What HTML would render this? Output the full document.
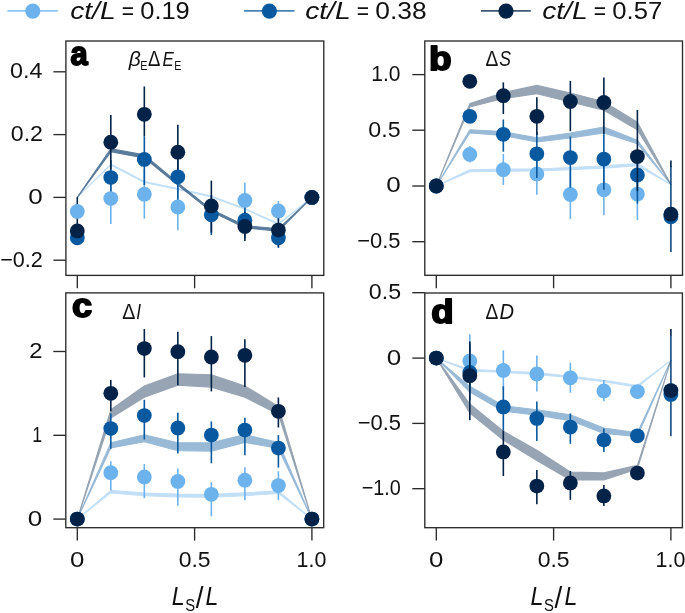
<!DOCTYPE html><html><head><meta charset="utf-8"><style>html,body{margin:0;padding:0;background:#fff;}svg{display:block;will-change:transform;}text{font-family:"Liberation Sans", sans-serif;}</style></head><body>
<svg width="685" height="613" viewBox="0 0 685 613">
<line x1="7.4" y1="10.9" x2="57.8" y2="10.9" stroke="#6cb2ec" stroke-opacity="0.75" stroke-width="1.9"/>
<circle cx="32.8" cy="11.1" r="7.6" fill="#6cb2ec"/>
<text transform="translate(70.15,19) scale(1.1755,1)" font-size="24" font-style="italic" fill="#111">ct/L</text>
<text transform="translate(121.85,19) scale(0.8763,1)" font-size="24" fill="#111">=</text>
<text transform="translate(140.28,19) scale(1.0596,1)" font-size="24" fill="#111">0.19</text>
<line x1="244.1" y1="10.9" x2="294.5" y2="10.9" stroke="#08599f" stroke-opacity="0.75" stroke-width="1.9"/>
<circle cx="269.4" cy="11.1" r="7.6" fill="#08599f"/>
<text transform="translate(305.15,19) scale(1.1755,1)" font-size="24" font-style="italic" fill="#111">ct/L</text>
<text transform="translate(356.85,19) scale(0.8763,1)" font-size="24" fill="#111">=</text>
<text transform="translate(375.24,19) scale(1.0992,1)" font-size="24" fill="#111">0.38</text>
<line x1="481" y1="10.9" x2="530.8" y2="10.9" stroke="#022247" stroke-opacity="0.75" stroke-width="1.9"/>
<circle cx="506.0" cy="11.1" r="7.6" fill="#022247"/>
<text transform="translate(542.15,19) scale(1.1755,1)" font-size="24" font-style="italic" fill="#111">ct/L</text>
<text transform="translate(593.85,19) scale(0.8763,1)" font-size="24" fill="#111">=</text>
<text transform="translate(612.27,19) scale(1.0692,1)" font-size="24" fill="#111">0.57</text>
<g opacity="0.41"><path d="M77.3,197.4 L110.81,164.1 L144.33,181.6 L177.84,188.6 L211.36,196.1 L244.87,208.4 L278.39,223.6 L311.9,197.4 L311.9,197.4 L278.39,224.4 L244.87,209.2 L211.36,196.9 L177.84,189.4 L144.33,182.4 L110.81,164.9 L77.3,197.4 Z" fill="#6cb2ec" stroke="#6cb2ec" stroke-width="1.1" stroke-linejoin="round"/></g>
<g opacity="0.41"><path d="M77.3,197.4 L110.81,148.8 L144.33,154.9 L177.84,183 L211.36,209.6 L244.87,225.6 L278.39,228.9 L311.9,197.4 L311.9,197.4 L278.39,231.1 L244.87,227.8 L211.36,211.6 L177.84,185 L144.33,157.9 L110.81,151.8 L77.3,197.4 Z" fill="#08599f" stroke="#08599f" stroke-width="1.1" stroke-linejoin="round"/></g>
<g opacity="0.41"><path d="M77.3,197.4 L110.81,148.8 L144.33,154.9 L177.84,183 L211.36,209.6 L244.87,225.6 L278.39,228.9 L311.9,197.4 L311.9,197.4 L278.39,231.1 L244.87,227.8 L211.36,211.6 L177.84,185 L144.33,157.9 L110.81,151.8 L77.3,197.4 Z" fill="#022247" stroke="#022247" stroke-width="1.1" stroke-linejoin="round"/></g>
<line x1="110.81" y1="174" x2="110.81" y2="224" stroke="#6cb2ec" stroke-width="1.6"/>
<line x1="144.33" y1="170" x2="144.33" y2="218.6" stroke="#6cb2ec" stroke-width="1.6"/>
<line x1="177.84" y1="184" x2="177.84" y2="230.3" stroke="#6cb2ec" stroke-width="1.6"/>
<line x1="244.87" y1="182.8" x2="244.87" y2="218" stroke="#6cb2ec" stroke-width="1.6"/>
<line x1="278.39" y1="201" x2="278.39" y2="221" stroke="#6cb2ec" stroke-width="1.6"/>
<line x1="110.81" y1="160" x2="110.81" y2="198" stroke="#08599f" stroke-width="1.6"/>
<line x1="144.33" y1="136.3" x2="144.33" y2="185" stroke="#08599f" stroke-width="1.6"/>
<line x1="177.84" y1="150" x2="177.84" y2="203" stroke="#08599f" stroke-width="1.6"/>
<line x1="211.36" y1="195" x2="211.36" y2="235" stroke="#08599f" stroke-width="1.6"/>
<line x1="244.87" y1="205" x2="244.87" y2="238" stroke="#08599f" stroke-width="1.6"/>
<line x1="278.39" y1="225" x2="278.39" y2="248" stroke="#08599f" stroke-width="1.6"/>
<line x1="77.3" y1="197.2" x2="77.3" y2="240" stroke="#022247" stroke-width="1.6"/>
<line x1="110.81" y1="115.1" x2="110.81" y2="169.5" stroke="#022247" stroke-width="1.6"/>
<line x1="144.33" y1="86.5" x2="144.33" y2="136.3" stroke="#022247" stroke-width="1.6"/>
<line x1="177.84" y1="124.7" x2="177.84" y2="180" stroke="#022247" stroke-width="1.6"/>
<line x1="211.36" y1="180.6" x2="211.36" y2="232.7" stroke="#022247" stroke-width="1.6"/>
<line x1="244.87" y1="212" x2="244.87" y2="241.1" stroke="#022247" stroke-width="1.6"/>
<line x1="278.39" y1="215" x2="278.39" y2="246.6" stroke="#022247" stroke-width="1.6"/>
<circle cx="77.3" cy="211.4" r="7.4" fill="#6cb2ec"/>
<circle cx="110.81" cy="198.6" r="7.4" fill="#6cb2ec"/>
<circle cx="144.33" cy="194.2" r="7.4" fill="#6cb2ec"/>
<circle cx="177.84" cy="207" r="7.4" fill="#6cb2ec"/>
<circle cx="244.87" cy="200.4" r="7.4" fill="#6cb2ec"/>
<circle cx="278.39" cy="210.9" r="7.4" fill="#6cb2ec"/>
<circle cx="311.9" cy="197.4" r="7.4" fill="#6cb2ec"/>
<circle cx="77.3" cy="237.8" r="7.4" fill="#08599f"/>
<circle cx="110.81" cy="177.6" r="7.4" fill="#08599f"/>
<circle cx="144.33" cy="159.4" r="7.4" fill="#08599f"/>
<circle cx="177.84" cy="176.8" r="7.4" fill="#08599f"/>
<circle cx="211.36" cy="214.7" r="7.4" fill="#08599f"/>
<circle cx="244.87" cy="220.2" r="7.4" fill="#08599f"/>
<circle cx="278.39" cy="237.8" r="7.4" fill="#08599f"/>
<circle cx="311.9" cy="197.4" r="7.4" fill="#08599f"/>
<circle cx="77.3" cy="230.9" r="7.4" fill="#022247"/>
<circle cx="110.81" cy="142.2" r="7.4" fill="#022247"/>
<circle cx="144.33" cy="114.3" r="7.4" fill="#022247"/>
<circle cx="177.84" cy="152.2" r="7.4" fill="#022247"/>
<circle cx="211.36" cy="205.9" r="7.4" fill="#022247"/>
<circle cx="244.87" cy="226.4" r="7.4" fill="#022247"/>
<circle cx="278.39" cy="230.1" r="7.4" fill="#022247"/>
<circle cx="311.9" cy="197.4" r="7.4" fill="#022247"/>
<rect x="65.9" y="41" width="257.9" height="234.4" fill="none" stroke="#2b2b2b" stroke-width="1.35"/>
<line x1="53.4" y1="71.8" x2="65.9" y2="71.8" stroke="#2b2b2b" stroke-width="1.35"/>
<text transform="translate(10.02,78.2) scale(1.0721,1)" font-size="21.8" fill="#111">0.4</text>
<line x1="53.4" y1="134.6" x2="65.9" y2="134.6" stroke="#2b2b2b" stroke-width="1.35"/>
<text transform="translate(10.77,141) scale(1.0621,1)" font-size="21.8" fill="#111">0.2</text>
<line x1="53.4" y1="197.4" x2="65.9" y2="197.4" stroke="#2b2b2b" stroke-width="1.35"/>
<text transform="translate(28.26,203.8) scale(1.1946,1)" font-size="21.8" fill="#111">0</text>
<line x1="53.4" y1="260.2" x2="65.9" y2="260.2" stroke="#2b2b2b" stroke-width="1.35"/>
<text transform="translate(0.22,266.6) scale(0.9908,1)" font-size="21.8" fill="#111">−0.2</text>
<line x1="77.3" y1="275.4" x2="77.3" y2="288.3" stroke="#2b2b2b" stroke-width="1.35"/>
<line x1="194.6" y1="275.4" x2="194.6" y2="288.3" stroke="#2b2b2b" stroke-width="1.35"/>
<line x1="311.9" y1="275.4" x2="311.9" y2="288.3" stroke="#2b2b2b" stroke-width="1.35"/>
<text transform="translate(70.62,64.96) scale(0.9197,1)" font-size="33.64" font-weight="bold" fill="#000" stroke="#000" stroke-width="1.8" stroke-linejoin="round">a</text>
<text transform="translate(128.63,66.2) scale(1.0025,1)" font-size="21" font-style="italic" fill="#111">β</text>
<text transform="translate(140.13,69.5) scale(0.8079,1)" font-size="13.4" fill="#111">E</text>
<text transform="translate(148.04,66.2) scale(0.8697,1)" font-size="21.3" fill="#111">Δ</text>
<text transform="translate(162.59,66.2) scale(0.8204,1)" font-size="20.6" font-style="italic" fill="#111">E</text>
<text transform="translate(174.25,69.5) scale(0.7942,1)" font-size="13.4" fill="#111">E</text>
<g opacity="0.41"><path d="M436.3,186 L469.81,169.8 L503.33,169.1 L536.84,169 L570.36,167.5 L603.87,165.9 L637.39,163.5 L670.9,184.5 L670.9,184.5 L637.39,165.7 L603.87,168.1 L570.36,169.7 L536.84,171 L503.33,171.1 L469.81,171.8 L436.3,186 Z" fill="#6cb2ec" stroke="#6cb2ec" stroke-width="1.1" stroke-linejoin="round"/></g>
<g opacity="0.41"><path d="M436.3,186 L469.81,129.8 L503.33,131.6 L536.84,137.75 L570.36,133 L603.87,127.1 L637.39,140.3 L670.9,184.5 L670.9,184.5 L637.39,143.7 L603.87,132.9 L570.36,138 L536.84,142.05 L503.33,135.4 L469.81,133 L436.3,186 Z" fill="#08599f" stroke="#08599f" stroke-width="1.1" stroke-linejoin="round"/></g>
<g opacity="0.41"><path d="M436.3,186 L469.81,103.6 L503.33,92.65 L536.84,85.4 L570.36,93 L603.87,101.8 L637.39,122.2 L670.9,184.5 L670.9,184.5 L637.39,129.8 L603.87,110.2 L570.36,102 L536.84,93.8 L503.33,98.55 L469.81,107 L436.3,186 Z" fill="#022247" stroke="#022247" stroke-width="1.1" stroke-linejoin="round"/></g>
<line x1="469.81" y1="146.2" x2="469.81" y2="162.6" stroke="#6cb2ec" stroke-width="1.6"/>
<line x1="503.33" y1="154" x2="503.33" y2="185" stroke="#6cb2ec" stroke-width="1.6"/>
<line x1="536.84" y1="153" x2="536.84" y2="194.7" stroke="#6cb2ec" stroke-width="1.6"/>
<line x1="570.36" y1="170" x2="570.36" y2="218.9" stroke="#6cb2ec" stroke-width="1.6"/>
<line x1="603.87" y1="164" x2="603.87" y2="215.3" stroke="#6cb2ec" stroke-width="1.6"/>
<line x1="637.39" y1="168" x2="637.39" y2="220.2" stroke="#6cb2ec" stroke-width="1.6"/>
<circle cx="436.3" cy="186" r="7.4" fill="#6cb2ec"/>
<circle cx="469.81" cy="154.4" r="7.4" fill="#6cb2ec"/>
<circle cx="503.33" cy="169.7" r="7.4" fill="#6cb2ec"/>
<circle cx="536.84" cy="173.9" r="7.4" fill="#6cb2ec"/>
<circle cx="570.36" cy="194.5" r="7.4" fill="#6cb2ec"/>
<circle cx="603.87" cy="189.8" r="7.4" fill="#6cb2ec"/>
<circle cx="637.39" cy="194.1" r="7.4" fill="#6cb2ec"/>
<circle cx="670.9" cy="214.2" r="7.4" fill="#6cb2ec"/>
<line x1="503.33" y1="119.5" x2="503.33" y2="151.7" stroke="#08599f" stroke-width="1.6"/>
<line x1="536.84" y1="132" x2="536.84" y2="178" stroke="#08599f" stroke-width="1.6"/>
<line x1="570.36" y1="136.5" x2="570.36" y2="187.7" stroke="#08599f" stroke-width="1.6"/>
<line x1="603.87" y1="134.3" x2="603.87" y2="189.8" stroke="#08599f" stroke-width="1.6"/>
<line x1="637.39" y1="150" x2="637.39" y2="203.6" stroke="#08599f" stroke-width="1.6"/>
<line x1="670.9" y1="166" x2="670.9" y2="252" stroke="#17497c" stroke-width="1.6"/>
<circle cx="436.3" cy="186" r="7.4" fill="#08599f"/>
<circle cx="469.81" cy="116.3" r="7.4" fill="#08599f"/>
<circle cx="503.33" cy="134.3" r="7.4" fill="#08599f"/>
<circle cx="536.84" cy="153.8" r="7.4" fill="#08599f"/>
<circle cx="570.36" cy="157.6" r="7.4" fill="#08599f"/>
<circle cx="603.87" cy="159.1" r="7.4" fill="#08599f"/>
<circle cx="637.39" cy="175" r="7.4" fill="#08599f"/>
<circle cx="670.9" cy="216.8" r="7.4" fill="#08599f"/>
<line x1="503.33" y1="82.4" x2="503.33" y2="114" stroke="#022247" stroke-width="1.6"/>
<line x1="536.84" y1="97.2" x2="536.84" y2="135" stroke="#022247" stroke-width="1.6"/>
<line x1="570.36" y1="80.9" x2="570.36" y2="131.2" stroke="#022247" stroke-width="1.6"/>
<line x1="603.87" y1="77.5" x2="603.87" y2="134.3" stroke="#022247" stroke-width="1.6"/>
<line x1="637.39" y1="110" x2="637.39" y2="190.9" stroke="#022247" stroke-width="1.6"/>
<line x1="670.9" y1="160.4" x2="670.9" y2="167" stroke="#022247" stroke-width="1.6"/>
<circle cx="436.3" cy="186" r="7.4" fill="#022247"/>
<circle cx="469.81" cy="81.3" r="7.4" fill="#022247"/>
<circle cx="503.33" cy="95.7" r="7.4" fill="#022247"/>
<circle cx="536.84" cy="116.3" r="7.4" fill="#022247"/>
<circle cx="570.36" cy="101.5" r="7.4" fill="#022247"/>
<circle cx="603.87" cy="102.5" r="7.4" fill="#022247"/>
<circle cx="637.39" cy="156.6" r="7.4" fill="#022247"/>
<circle cx="670.9" cy="214.2" r="7.4" fill="#022247"/>
<rect x="424.8" y="41" width="257.7" height="234.3" fill="none" stroke="#2b2b2b" stroke-width="1.35"/>
<line x1="412.3" y1="74.6" x2="424.8" y2="74.6" stroke="#2b2b2b" stroke-width="1.35"/>
<text transform="translate(371.22,81) scale(0.9640,1)" font-size="21.8" fill="#111">1.0</text>
<line x1="412.3" y1="130.2" x2="424.8" y2="130.2" stroke="#2b2b2b" stroke-width="1.35"/>
<text transform="translate(368.37,136.6) scale(1.0645,1)" font-size="21.8" fill="#111">0.5</text>
<line x1="412.3" y1="186" x2="424.8" y2="186" stroke="#2b2b2b" stroke-width="1.35"/>
<text transform="translate(386.16,192.4) scale(1.1946,1)" font-size="21.8" fill="#111">0</text>
<line x1="412.3" y1="241.7" x2="424.8" y2="241.7" stroke="#2b2b2b" stroke-width="1.35"/>
<text transform="translate(357.2,248.1) scale(1.0075,1)" font-size="21.8" fill="#111">−0.5</text>
<line x1="436.3" y1="275.3" x2="436.3" y2="288.2" stroke="#2b2b2b" stroke-width="1.35"/>
<line x1="553.6" y1="275.3" x2="553.6" y2="288.2" stroke="#2b2b2b" stroke-width="1.35"/>
<line x1="670.9" y1="275.3" x2="670.9" y2="288.2" stroke="#2b2b2b" stroke-width="1.35"/>
<text transform="translate(428.99,70.16) scale(1.0975,1)" font-size="33.74" font-weight="bold" fill="#000" stroke="#000" stroke-width="1.8" stroke-linejoin="round">b</text>
<text transform="translate(485.52,66.1) scale(0.8921,1)" font-size="21.5" fill="#111">Δ</text>
<text transform="translate(499.37,66.3) scale(0.8186,1)" font-size="21.5" font-style="italic" fill="#111">S</text>
<g opacity="0.41"><path d="M77.3,519.1 L110.81,490.3 L144.33,493 L177.84,494.1 L211.36,494.4 L244.87,492.9 L278.39,490.8 L311.9,519.1 L311.9,519.1 L278.39,493.4 L244.87,495.7 L211.36,497.2 L177.84,496.9 L144.33,495.8 L110.81,492.9 L77.3,519.1 Z" fill="#6cb2ec" stroke="#6cb2ec" stroke-width="1.1" stroke-linejoin="round"/></g>
<g opacity="0.41"><path d="M77.3,519.1 L110.81,442.7 L144.33,434.7 L177.84,442.8 L211.36,442.7 L244.87,434.6 L278.39,442.5 L311.9,519.1 L311.9,519.1 L278.39,448.5 L244.87,442.4 L211.36,451.1 L177.84,450.8 L144.33,441.7 L110.81,447.9 L77.3,519.1 Z" fill="#08599f" stroke="#08599f" stroke-width="1.1" stroke-linejoin="round"/></g>
<g opacity="0.41"><path d="M77.3,519.1 L110.81,409.8 L144.33,385.9 L177.84,373.8 L211.36,374.7 L244.87,385.9 L278.39,406.4 L311.9,519.1 L311.9,519.1 L278.39,414.2 L244.87,397.3 L211.36,387.1 L177.84,385.2 L144.33,397.3 L110.81,418 L77.3,519.1 Z" fill="#022247" stroke="#022247" stroke-width="1.1" stroke-linejoin="round"/></g>
<line x1="110.81" y1="461.2" x2="110.81" y2="490.5" stroke="#6cb2ec" stroke-width="1.6"/>
<line x1="144.33" y1="464" x2="144.33" y2="498.1" stroke="#6cb2ec" stroke-width="1.6"/>
<line x1="177.84" y1="468.4" x2="177.84" y2="505.7" stroke="#6cb2ec" stroke-width="1.6"/>
<line x1="211.36" y1="482.2" x2="211.36" y2="516.4" stroke="#6cb2ec" stroke-width="1.6"/>
<line x1="244.87" y1="467.2" x2="244.87" y2="500.2" stroke="#6cb2ec" stroke-width="1.6"/>
<line x1="278.39" y1="471.3" x2="278.39" y2="500.2" stroke="#6cb2ec" stroke-width="1.6"/>
<circle cx="77.3" cy="519.1" r="7.4" fill="#6cb2ec"/>
<circle cx="110.81" cy="472.7" r="7.4" fill="#6cb2ec"/>
<circle cx="144.33" cy="477" r="7.4" fill="#6cb2ec"/>
<circle cx="177.84" cy="481.4" r="7.4" fill="#6cb2ec"/>
<circle cx="211.36" cy="494.3" r="7.4" fill="#6cb2ec"/>
<circle cx="244.87" cy="480.2" r="7.4" fill="#6cb2ec"/>
<circle cx="278.39" cy="485.6" r="7.4" fill="#6cb2ec"/>
<circle cx="311.9" cy="519.1" r="7.4" fill="#6cb2ec"/>
<line x1="110.81" y1="413.4" x2="110.81" y2="448.8" stroke="#08599f" stroke-width="1.6"/>
<line x1="144.33" y1="399.8" x2="144.33" y2="439.5" stroke="#08599f" stroke-width="1.6"/>
<line x1="177.84" y1="412.8" x2="177.84" y2="453.6" stroke="#08599f" stroke-width="1.6"/>
<line x1="211.36" y1="421.5" x2="211.36" y2="463.3" stroke="#08599f" stroke-width="1.6"/>
<line x1="244.87" y1="417.8" x2="244.87" y2="455.3" stroke="#08599f" stroke-width="1.6"/>
<line x1="278.39" y1="435.1" x2="278.39" y2="467.6" stroke="#08599f" stroke-width="1.6"/>
<circle cx="77.3" cy="519.1" r="7.4" fill="#08599f"/>
<circle cx="110.81" cy="428.6" r="7.4" fill="#08599f"/>
<circle cx="144.33" cy="415.6" r="7.4" fill="#08599f"/>
<circle cx="177.84" cy="428" r="7.4" fill="#08599f"/>
<circle cx="211.36" cy="435.1" r="7.4" fill="#08599f"/>
<circle cx="244.87" cy="430.1" r="7.4" fill="#08599f"/>
<circle cx="278.39" cy="448.1" r="7.4" fill="#08599f"/>
<circle cx="311.9" cy="519.1" r="7.4" fill="#08599f"/>
<line x1="110.81" y1="380" x2="110.81" y2="411.3" stroke="#022247" stroke-width="1.6"/>
<line x1="144.33" y1="329" x2="144.33" y2="377.4" stroke="#022247" stroke-width="1.6"/>
<line x1="177.84" y1="331.8" x2="177.84" y2="385.3" stroke="#022247" stroke-width="1.6"/>
<line x1="211.36" y1="336.1" x2="211.36" y2="391.4" stroke="#022247" stroke-width="1.6"/>
<line x1="244.87" y1="339.3" x2="244.87" y2="387" stroke="#022247" stroke-width="1.6"/>
<line x1="278.39" y1="397.5" x2="278.39" y2="427.5" stroke="#022247" stroke-width="1.6"/>
<circle cx="77.3" cy="519.1" r="7.4" fill="#022247"/>
<circle cx="110.81" cy="393.3" r="7.4" fill="#022247"/>
<circle cx="144.33" cy="348.6" r="7.4" fill="#022247"/>
<circle cx="177.84" cy="351.7" r="7.4" fill="#022247"/>
<circle cx="211.36" cy="357" r="7.4" fill="#022247"/>
<circle cx="244.87" cy="355.3" r="7.4" fill="#022247"/>
<circle cx="278.39" cy="411.3" r="7.4" fill="#022247"/>
<circle cx="311.9" cy="519.1" r="7.4" fill="#022247"/>
<rect x="65.8" y="292.9" width="257.9" height="234.8" fill="none" stroke="#2b2b2b" stroke-width="1.35"/>
<line x1="53.3" y1="351.5" x2="65.8" y2="351.5" stroke="#2b2b2b" stroke-width="1.35"/>
<text transform="translate(29.21,357.9) scale(1.0888,1)" font-size="21.8" fill="#111">2</text>
<line x1="53.3" y1="435.3" x2="65.8" y2="435.3" stroke="#2b2b2b" stroke-width="1.35"/>
<text transform="translate(32.17,441.7) scale(0.8120,1)" font-size="21.8" fill="#111">1</text>
<line x1="53.3" y1="519.1" x2="65.8" y2="519.1" stroke="#2b2b2b" stroke-width="1.35"/>
<text transform="translate(27.66,525.5) scale(1.1946,1)" font-size="21.8" fill="#111">0</text>
<line x1="77.3" y1="527.7" x2="77.3" y2="540.6" stroke="#2b2b2b" stroke-width="1.35"/>
<text transform="translate(70.07,567.4) scale(1.1850,1)" font-size="21.8" fill="#111">0</text>
<line x1="194.6" y1="527.7" x2="194.6" y2="540.6" stroke="#2b2b2b" stroke-width="1.35"/>
<text transform="translate(178.63,567.4) scale(1.0540,1)" font-size="21.8" fill="#111">0.5</text>
<line x1="311.9" y1="527.7" x2="311.9" y2="540.6" stroke="#2b2b2b" stroke-width="1.35"/>
<text transform="translate(296.59,567.4) scale(0.9819,1)" font-size="21.8" fill="#111">1.0</text>
<text transform="translate(72.06,317.47) scale(1.1025,1)" font-size="32.73" font-weight="bold" fill="#000" stroke="#000" stroke-width="1.8" stroke-linejoin="round">c</text>
<text transform="translate(122.31,318.6) scale(0.9150,1)" font-size="21.5" fill="#111">Δ</text>
<text transform="translate(136.21,318.6) scale(0.8062,1)" font-size="21.5" font-style="italic" fill="#111">I</text>
<text transform="translate(171.7,604.7) scale(0.9100,1)" font-size="25.6" font-style="italic" fill="#111">L</text>
<text transform="translate(185.13,611.3) scale(0.8496,1)" font-size="17.4" fill="#111">S</text>
<text transform="translate(195.7,607.9) scale(0.9223,1)" font-size="30.2" fill="#111">/</text>
<text transform="translate(205.51,604.7) scale(0.9014,1)" font-size="25.6" font-style="italic" fill="#111">L</text>
<g opacity="0.41"><path d="M436.3,358.1 L469.81,369.6 L503.33,370.7 L536.84,372.8 L570.36,376 L603.87,380.2 L637.39,385.5 L670.9,360.4 L670.9,360.4 L637.39,387.1 L603.87,381.8 L570.36,377.6 L536.84,374.4 L503.33,372.3 L469.81,371.2 L436.3,358.1 Z" fill="#6cb2ec" stroke="#6cb2ec" stroke-width="1.1" stroke-linejoin="round"/></g>
<g opacity="0.41"><path d="M436.3,358.1 L469.81,386.3 L503.33,405.8 L536.84,409.7 L570.36,414.8 L603.87,428 L637.39,432.8 L670.9,360.4 L670.9,360.4 L637.39,436.4 L603.87,433.4 L570.36,420.6 L536.84,415.1 L503.33,411.2 L469.81,392.1 L436.3,358.1 Z" fill="#08599f" stroke="#08599f" stroke-width="1.1" stroke-linejoin="round"/></g>
<g opacity="0.41"><path d="M436.3,358.1 L469.81,404 L503.33,431.2 L536.84,450.3 L570.36,472 L603.87,472.9 L637.39,465.3 L670.9,360.4 L670.9,360.4 L637.39,469.1 L603.87,479.9 L570.36,480 L536.84,460.5 L503.33,440 L469.81,413 L436.3,358.1 Z" fill="#022247" stroke="#022247" stroke-width="1.1" stroke-linejoin="round"/></g>
<line x1="469.81" y1="334.4" x2="469.81" y2="387" stroke="#6cb2ec" stroke-width="1.6"/>
<line x1="503.33" y1="350.3" x2="503.33" y2="390" stroke="#6cb2ec" stroke-width="1.6"/>
<line x1="536.84" y1="355.6" x2="536.84" y2="391.6" stroke="#6cb2ec" stroke-width="1.6"/>
<line x1="570.36" y1="362.6" x2="570.36" y2="392.7" stroke="#6cb2ec" stroke-width="1.6"/>
<line x1="603.87" y1="380" x2="603.87" y2="401.2" stroke="#6cb2ec" stroke-width="1.6"/>
<circle cx="436.3" cy="358.1" r="7.4" fill="#6cb2ec"/>
<circle cx="469.81" cy="360.9" r="7.4" fill="#6cb2ec"/>
<circle cx="503.33" cy="370.4" r="7.4" fill="#6cb2ec"/>
<circle cx="536.84" cy="374" r="7.4" fill="#6cb2ec"/>
<circle cx="570.36" cy="377.8" r="7.4" fill="#6cb2ec"/>
<circle cx="603.87" cy="391" r="7.4" fill="#6cb2ec"/>
<circle cx="637.39" cy="391.6" r="7.4" fill="#6cb2ec"/>
<circle cx="670.9" cy="390.6" r="7.4" fill="#6cb2ec"/>
<line x1="469.81" y1="345" x2="469.81" y2="400" stroke="#08599f" stroke-width="1.6"/>
<line x1="503.33" y1="386.3" x2="503.33" y2="430.5" stroke="#08599f" stroke-width="1.6"/>
<line x1="536.84" y1="401.5" x2="536.84" y2="441" stroke="#08599f" stroke-width="1.6"/>
<line x1="570.36" y1="413.4" x2="570.36" y2="443.8" stroke="#08599f" stroke-width="1.6"/>
<line x1="603.87" y1="428.6" x2="603.87" y2="451.9" stroke="#08599f" stroke-width="1.6"/>
<line x1="670.9" y1="335" x2="670.9" y2="436.2" stroke="#17497c" stroke-width="1.6"/>
<circle cx="436.3" cy="358.1" r="7.4" fill="#08599f"/>
<circle cx="469.81" cy="372.5" r="7.4" fill="#08599f"/>
<circle cx="503.33" cy="406.9" r="7.4" fill="#08599f"/>
<circle cx="536.84" cy="418.4" r="7.4" fill="#08599f"/>
<circle cx="570.36" cy="427.1" r="7.4" fill="#08599f"/>
<circle cx="603.87" cy="440.1" r="7.4" fill="#08599f"/>
<circle cx="637.39" cy="435.8" r="7.4" fill="#08599f"/>
<circle cx="670.9" cy="394.4" r="7.4" fill="#08599f"/>
<line x1="469.81" y1="341.4" x2="469.81" y2="420.3" stroke="#022247" stroke-width="1.6"/>
<line x1="503.33" y1="430.5" x2="503.33" y2="476" stroke="#022247" stroke-width="1.6"/>
<line x1="536.84" y1="469.9" x2="536.84" y2="504.2" stroke="#022247" stroke-width="1.6"/>
<line x1="570.36" y1="471" x2="570.36" y2="499.8" stroke="#022247" stroke-width="1.6"/>
<line x1="603.87" y1="485.1" x2="603.87" y2="506.1" stroke="#022247" stroke-width="1.6"/>
<line x1="670.9" y1="329" x2="670.9" y2="335.5" stroke="#022247" stroke-width="1.6"/>
<circle cx="436.3" cy="358.1" r="7.4" fill="#022247"/>
<circle cx="469.81" cy="375.7" r="7.4" fill="#022247"/>
<circle cx="503.33" cy="451.9" r="7.4" fill="#022247"/>
<circle cx="536.84" cy="486.1" r="7.4" fill="#022247"/>
<circle cx="570.36" cy="482.9" r="7.4" fill="#022247"/>
<circle cx="603.87" cy="495.9" r="7.4" fill="#022247"/>
<circle cx="637.39" cy="473.1" r="7.4" fill="#022247"/>
<circle cx="670.9" cy="390.6" r="7.4" fill="#022247"/>
<rect x="424.8" y="293" width="257.6" height="234.7" fill="none" stroke="#2b2b2b" stroke-width="1.35"/>
<line x1="412.3" y1="292.7" x2="424.8" y2="292.7" stroke="#2b2b2b" stroke-width="1.35"/>
<text transform="translate(368.87,299.1) scale(1.0645,1)" font-size="21.8" fill="#111">0.5</text>
<line x1="412.3" y1="358.1" x2="424.8" y2="358.1" stroke="#2b2b2b" stroke-width="1.35"/>
<text transform="translate(386.66,364.5) scale(1.1946,1)" font-size="21.8" fill="#111">0</text>
<line x1="412.3" y1="423.4" x2="424.8" y2="423.4" stroke="#2b2b2b" stroke-width="1.35"/>
<text transform="translate(357.7,429.8) scale(1.0075,1)" font-size="21.8" fill="#111">−0.5</text>
<line x1="412.3" y1="488.7" x2="424.8" y2="488.7" stroke="#2b2b2b" stroke-width="1.35"/>
<text transform="translate(361.71,495.1) scale(0.9101,1)" font-size="21.8" fill="#111">−1.0</text>
<line x1="436.3" y1="527.7" x2="436.3" y2="540.6" stroke="#2b2b2b" stroke-width="1.35"/>
<text transform="translate(429.07,567.4) scale(1.1850,1)" font-size="21.8" fill="#111">0</text>
<line x1="553.6" y1="527.7" x2="553.6" y2="540.6" stroke="#2b2b2b" stroke-width="1.35"/>
<text transform="translate(537.63,567.4) scale(1.0540,1)" font-size="21.8" fill="#111">0.5</text>
<line x1="670.9" y1="527.7" x2="670.9" y2="540.6" stroke="#2b2b2b" stroke-width="1.35"/>
<text transform="translate(655.59,567.4) scale(0.9819,1)" font-size="21.8" fill="#111">1.0</text>
<text transform="translate(431.33,322.57) scale(1.1219,1)" font-size="32.65" font-weight="bold" fill="#000" stroke="#000" stroke-width="1.8" stroke-linejoin="round">d</text>
<text transform="translate(485.52,318.5) scale(0.8921,1)" font-size="21.5" fill="#111">Δ</text>
<text transform="translate(499.5,318.5) scale(0.9373,1)" font-size="21.5" font-style="italic" fill="#111">D</text>
<text transform="translate(530.6,604.7) scale(0.9100,1)" font-size="25.6" font-style="italic" fill="#111">L</text>
<text transform="translate(544.03,611.3) scale(0.8496,1)" font-size="17.4" fill="#111">S</text>
<text transform="translate(554.6,607.9) scale(0.9223,1)" font-size="30.2" fill="#111">/</text>
<text transform="translate(564.41,604.7) scale(0.9014,1)" font-size="25.6" font-style="italic" fill="#111">L</text>
</svg></body></html>
